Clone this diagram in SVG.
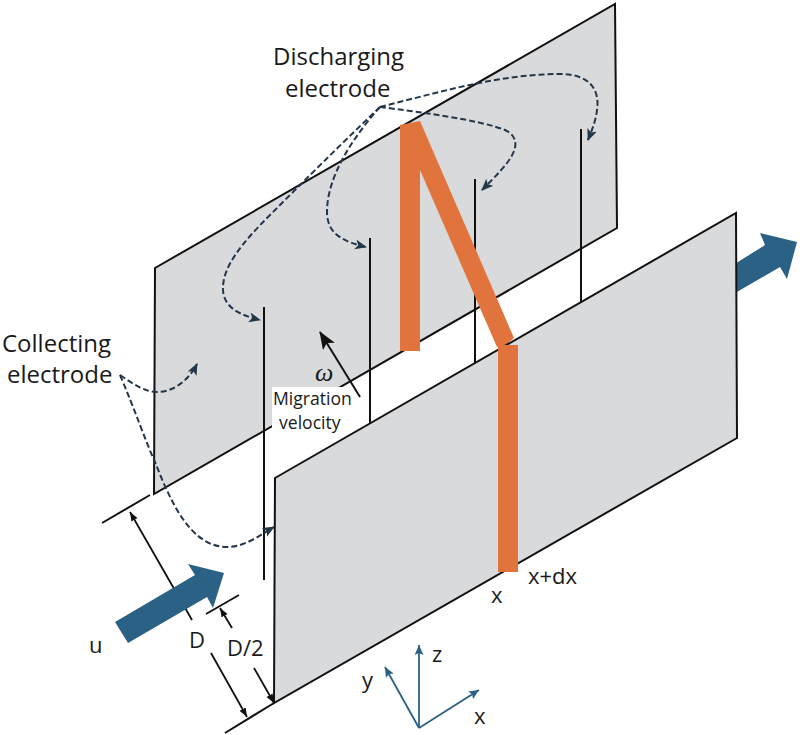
<svg xmlns="http://www.w3.org/2000/svg" width="800" height="735" viewBox="0 0 800 735">
<style>
.plate{fill:#d9dadc;stroke:#111;stroke-width:2;stroke-linejoin:miter}
.ln{fill:none;stroke:#111;stroke-width:2}
.dim{fill:none;stroke:#111;stroke-width:1.8}
.dash{fill:none;stroke:#24364a;stroke-width:2;stroke-dasharray:6 3}
.o{fill:#e1743c}
.b{fill:#2b6185}
.ax{fill:none;stroke:#2b6185;stroke-width:1.8}
text{font-family:"Open Sans","Liberation Sans",sans-serif;fill:#1a1a1a;font-size:24px}
.s{font-size:17.6px}
.m{font-size:22px}
</style>
<defs>
<marker id="dh" markerUnits="userSpaceOnUse" markerWidth="14" markerHeight="12" refX="11" refY="5" orient="auto"><path d="M0 0L12 5L0 10L3 5Z" fill="#24364a"/></marker>
<marker id="ah" markerUnits="userSpaceOnUse" markerWidth="12" markerHeight="10" refX="9" refY="3.5" orient="auto"><path d="M0 0L9 3.5L0 7Z" fill="#111"/></marker>
<marker id="bh" markerUnits="userSpaceOnUse" markerWidth="20" markerHeight="16" refX="17" refY="7" orient="auto"><path d="M0 0L18 7L0 14L4 7Z" fill="#111"/></marker>
<marker id="xh" markerUnits="userSpaceOnUse" markerWidth="12" markerHeight="10" refX="10" refY="4.5" orient="auto"><path d="M0 0L10 4.5L0 9L2 4.5Z" fill="#2b6185"/></marker>
</defs>
<rect width="800" height="735" fill="#fff"/>
<g id="outlet-arrow"><path class="b" d="M730 267L765 245L760 233L797 242L787 279L780 267L730 296Z"/></g>
<g id="back-plate"><path class="plate" d="M155 268L615 4L617 228L154 494Z"/></g>
<g id="wires">
<path class="ln" d="M370 238V424M475 179V363M581 129V302"/>
</g>
<g id="back-orange"><path class="o" d="M400 125L420 121L420 351H400Z"/></g>
<g id="label-box"><rect x="272" y="387" width="75" height="45" fill="#fff"/></g>
<g id="wire-1"><path class="ln" d="M264 307V580"/></g>
<g id="orange-diagonal"><path class="o" d="M420 121L514 338L505 346L497 347L420 170Z"/></g>
<g id="front-plate"><path class="plate" d="M275 478L736 213L737 438L274 703Z"/></g>
<g id="orange"><path class="o" d="M498 345H518V572H498Z"/></g>
<g id="connectors">
<path class="ln" d="M102 523L150 495M225 733L274 703"/>
<path class="dim" d="M206 614L239 595"/>
<path class="dim" marker-end="url(#ah)" d="M192 620L130 512"/>
<path class="dim" marker-end="url(#ah)" d="M211 653L247 717"/>
<path class="dim" marker-end="url(#ah)" d="M232 628L220 608"/>
<path class="dim" marker-end="url(#ah)" d="M254 668L274 703"/>
<path class="dash" marker-end="url(#dh)" d="M380 107C440 92 500 74 560 74C590 74 600 90 597 110C596 120 592 130 588 140"/>
<path class="dash" marker-end="url(#dh)" d="M380 107C420 112 480 120 505 130C520 137 517 150 507 163C500 172 490 182 482 190"/>
<path class="dash" marker-end="url(#dh)" d="M380 107C355 135 327 175 327 212C327 235 345 242 366 247"/>
<path class="dash" marker-end="url(#dh)" d="M380 107C340 145 300 185 270 215C240 245 222 268 223 290C224 308 240 315 260 320"/>
<path class="dash" marker-end="url(#dh)" d="M120 375C135 385 145 392 157 392C175 392 190 378 197 364"/>
<path class="dash" marker-end="url(#dh)" d="M120 375C135 410 145 440 155 462C170 500 190 547 227 547C245 547 260 535 274 527"/>
<path class="ln" marker-end="url(#bh)" d="M360 397L320 332"/>
<path class="ax" marker-end="url(#xh)" d="M419 728L385 667"/>
<path class="ax" marker-end="url(#xh)" d="M419 728V645"/>
<path class="ax" marker-end="url(#xh)" d="M419 728L479 690"/>
</g>
<g id="inlet-arrow"><path class="b" d="M115 622L128 643L207 597L213 608L224 573L188 564L195 575Z"/></g>
<g id="labels">
<text x="2" y="352">Collecting</text>
<text x="7" y="383">electrode</text>
<text x="273" y="65">Discharging</text>
<text x="285" y="97">electrode</text>
<text class="s" x="273" y="405">Migration</text>
<text class="s" x="279" y="429">velocity</text>
<text x="315" y="381" style="font-family:'Liberation Serif',serif;font-style:italic;font-size:26px">ω</text>
<text class="m" x="89" y="653">u</text>
<text class="m" x="189" y="648">D</text>
<text class="m" x="227" y="656">D/2</text>
<text class="m" x="491" y="603">x</text>
<text class="m" x="528" y="584">x+dx</text>
<text class="m" x="362" y="688">y</text>
<text class="m" x="432" y="662">z</text>
<text class="m" x="474" y="724">x</text>
</g>
</svg>
